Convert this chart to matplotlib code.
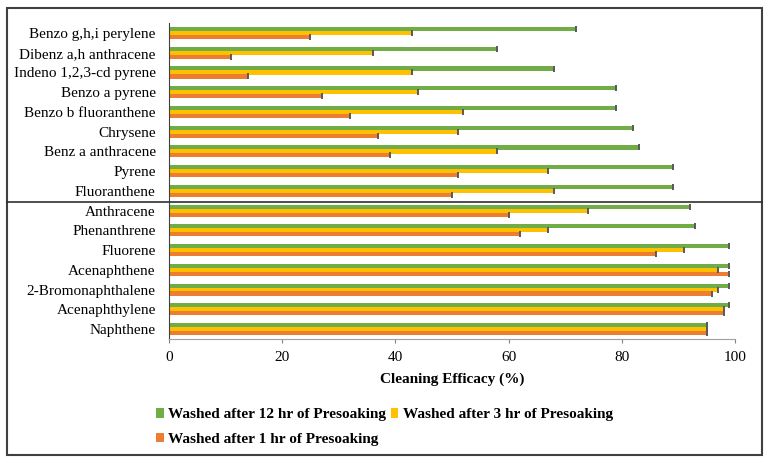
import numpy as np
import matplotlib.pyplot as plt
from matplotlib.patches import Rectangle
from matplotlib.lines import Line2D
from matplotlib.transforms import blended_transform_factory

compounds = ['Benzo g,h,i perylene', 'Dibenz a,h anthracene', 'Indeno 1,2,3-cd pyrene',
             'Benzo a pyrene', 'Benzo b fluoranthene', 'Chrysene', 'Benz a anthracene',
             'Pyrene', 'Fluoranthene', 'Anthracene', 'Phenanthrene', 'Fluorene',
             'Acenaphthene', '2-Bromonaphthalene', 'Acenaphthylene', 'Naphthene']

# cleaning efficacy (%)
hr12 = [72, 58, 68, 79, 79, 82, 83, 89, 89, 92, 93, 99, 99, 99, 99, 95]
hr3 = [43, 36, 43, 44, 52, 51, 58, 67, 68, 74, 67, 91, 97, 97, 98, 95]
hr1 = [25, 11, 14, 27, 32, 37, 39, 51, 50, 60, 62, 86, 99, 96, 98, 95]

series = [
    ('Washed after 12 hr of Presoaking', hr12, '#70AD47', -0.2),
    ('Washed after 3 hr of Presoaking', hr3, '#FFC000', 0.0),
    ('Washed after 1 hr of Presoaking', hr1, '#ED7D31', 0.2),
]

plt.rcParams['font.family'] = 'Liberation Serif'

fig = plt.figure(figsize=(7.68, 4.63), dpi=100)
ax = fig.add_axes([0.220, 0.268, 0.737, 0.682])

y = np.arange(len(compounds))
handles = []
for label, vals, color, off in series:
    h = ax.barh(y + off, vals, height=0.21, color=color, label=label)
    ax.errorbar(vals, y + off, xerr=0, fmt='none', ecolor='#595959',
                elinewidth=0.8, capsize=2.2, capthick=1.2)
    handles.append(h)

ax.set_ylim(len(compounds) - 0.5, -0.5)
ax.set_xlim(0, 100)
ax.set_yticks(y)
ax.set_yticklabels(compounds, fontsize=11)
ax.set_xticks(np.arange(0, 101, 20))
ax.tick_params(axis='x', labelsize=11, length=3, color='#808080', pad=6)
ax.tick_params(axis='y', length=0, pad=9.5)
for s in ['top', 'right']:
    ax.spines[s].set_visible(False)
ax.spines['left'].set_color('#404040')
ax.spines['bottom'].set_color('#a0a0a0')
ax.set_xlabel('Cleaning Efficacy (%)', fontsize=11, fontweight='bold', labelpad=6)

leg = fig.legend([handles[0], handles[2], handles[1]],
                 [series[0][0], series[2][0], series[1][0]],
                 ncol=2, loc='upper left', bbox_to_anchor=(0.195, 0.132),
                 frameon=False, prop={'weight': 'bold', 'size': 11},
                 handlelength=0.5, handleheight=0.6, handletextpad=0.3,
                 columnspacing=0.3, labelspacing=0.75, borderaxespad=0)

# outer frame
fig.patches.append(Rectangle((0.009, 0.017), 0.983, 0.966, transform=fig.transFigure,
                             fill=False, edgecolor='#404040', linewidth=1.5))
# divider between the two compound groups
tr = blended_transform_factory(fig.transFigure, ax.transData)
fig.lines.append(Line2D([0.009, 0.992], [8.55, 8.55], transform=tr,
                        color='#303030', linewidth=1.2))

fig.savefig('out.png', dpi=100)
